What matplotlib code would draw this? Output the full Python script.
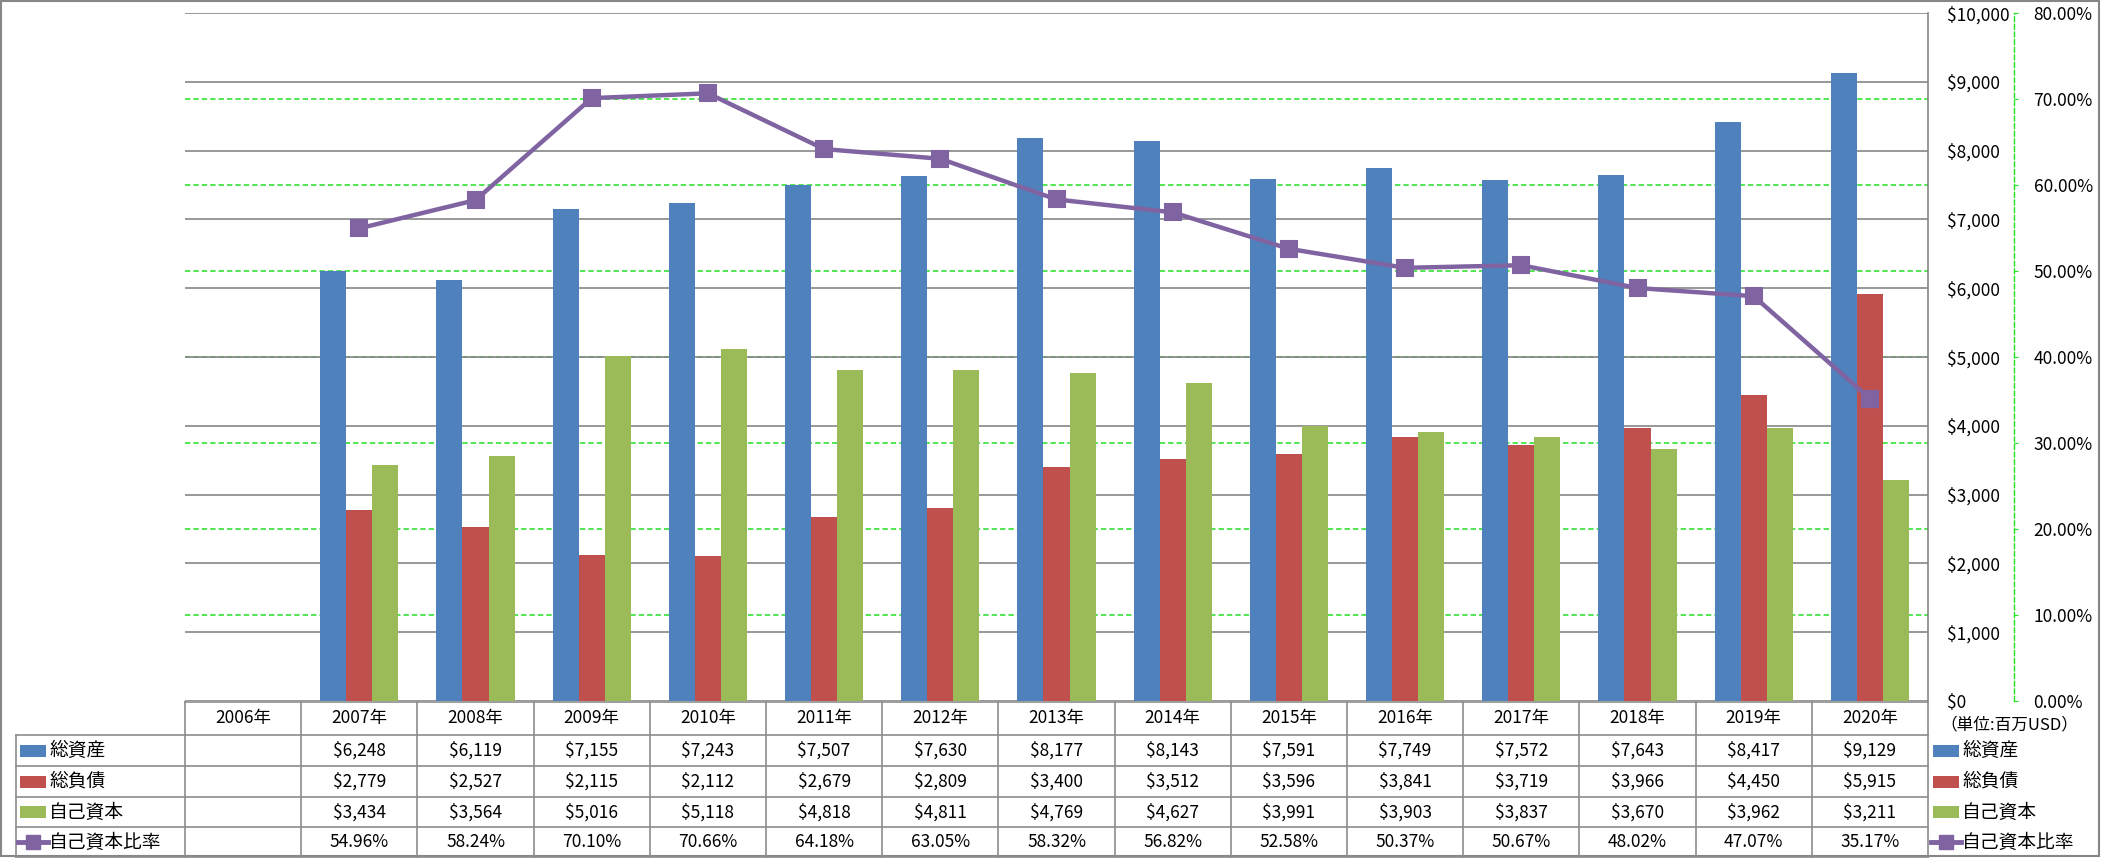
import matplotlib
matplotlib.use('Agg')
import matplotlib.pyplot as plt
import numpy as np
from matplotlib.patches import Rectangle
from matplotlib.lines import Line2D

plt.rcParams['font.family'] = ['Noto Sans CJK JP', 'DejaVu Sans']

years = ['2006年', '2007年', '2008年', '2009年', '2010年', '2011年', '2012年', '2013年',
         '2014年', '2015年', '2016年', '2017年', '2018年', '2019年', '2020年']
# 2006 has no data
total_assets = [6248, 6119, 7155, 7243, 7507, 7630, 8177, 8143, 7591, 7749, 7572, 7643, 8417, 9129]
total_liab = [2779, 2527, 2115, 2112, 2679, 2809, 3400, 3512, 3596, 3841, 3719, 3966, 4450, 5915]
equity = [3434, 3564, 5016, 5118, 4818, 4811, 4769, 4627, 3991, 3903, 3837, 3670, 3962, 3211]
equity_ratio = [54.96, 58.24, 70.10, 70.66, 64.18, 63.05, 58.32, 56.82, 52.58, 50.37, 50.67, 48.02, 47.07, 35.17]
series_names = ['総資産', '総負債', '自己資本', '自己資本比率']

c_blue = '#4F81BD'
c_red = '#C0504D'
c_green = '#9BBB59'
c_purple = '#8064A2'
c_grid = '#868686'
c_green_grid = '#22E022'
dash = (0, (3.5, 2))
fs = 12.5

W, H = 2101, 858
fig = plt.figure(figsize=(W / 100, H / 100), dpi=100)

# plot area in pixels
px0, px1, py0, py1 = 185, 1928, 13, 701
ax = fig.add_axes([px0 / W, 1 - py1 / H, (px1 - px0) / W, (py1 - py0) / H])
ncat = len(years)
ax.set_xlim(-0.5, ncat - 0.5)
ax.set_ylim(0, 10000)

# secondary axis (percent), kept behind the bars
ax2 = ax.twinx()
ax2.set_ylim(0, 80)
ax2.set_yticks(np.arange(0, 81, 10))
ax2.set_yticklabels(['{:.2f}%'.format(v) for v in range(0, 81, 10)])
for s in ['left', 'top', 'bottom']:
    ax2.spines[s].set_visible(False)
ax2.spines['right'].set_position(('outward', 62))
ax2.spines['right'].set_color(c_green_grid)
ax2.spines['right'].set_linestyle(dash)
ax2.spines['right'].set_linewidth(1.0)
ax2.tick_params(axis='y', length=3, pad=11, color=c_green_grid, labelsize=fs)
for v in range(10, 80, 10):
    ax2.axhline(v, color=c_green_grid, linewidth=1.1, linestyle=dash, zorder=1)

ax.set_zorder(ax2.get_zorder() + 1)
ax.patch.set_visible(False)

x = np.arange(1, ncat)
bw = 0.224
ax.bar(x - bw, total_assets, bw, color=c_blue, zorder=3)
ax.bar(x, total_liab, bw, color=c_red, zorder=3)
ax.bar(x + bw, equity, bw, color=c_green, zorder=3)
ax.plot(x, equity_ratio, transform=ax2.transData, color=c_purple, linewidth=3.2,
        marker='s', markersize=12, markerfacecolor=c_purple, markeredgecolor=c_purple,
        markeredgewidth=1.5, solid_joinstyle='round', zorder=5)

ax.set_yticks(np.arange(0, 10001, 1000))
ax.set_yticklabels(['${:,}'.format(v) for v in range(0, 10001, 1000)])
ax.yaxis.tick_right()
ax.tick_params(axis='y', length=0, pad=14, labelsize=fs)
ax.set_xticks([])
for s in ['left', 'top', 'bottom']:
    ax.spines[s].set_visible(False)
ax.spines['right'].set_color(c_grid)
ax.spines['right'].set_linewidth(1.2)
ax.yaxis.grid(True, color=c_grid, linewidth=1.2, zorder=0)
ax.set_axisbelow(True)

# table / frame overlay in pixel coordinates
tab = fig.add_axes([0, 0, 1, 1], zorder=-1)
tab.set_xlim(0, W)
tab.set_ylim(H, 0)
tab.axis('off')

tab.add_patch(Rectangle((1, 1), W - 3, H - 3, fill=False, edgecolor=c_grid, linewidth=1.5))

colw = (px1 - px0) / ncat
rows_y = [702, 735, 766, 797, 827, 857]
lc = '#8C8C8C'
tab.plot([px0, px1], [rows_y[0], rows_y[0]], color=lc, lw=1.2)
for yy in rows_y[1:]:
    tab.plot([16, px1], [yy, yy], color=lc, lw=1.2)
tab.plot([16, 16], [rows_y[1], H], color=lc, lw=1.2)
for i in range(ncat + 1):
    tab.plot([px0 + i * colw] * 2, [rows_y[0], H], color=lc, lw=1.2)

for i, yr in enumerate(years):
    cx = px0 + (i + 0.5) * colw
    tab.text(cx, (rows_y[0] + rows_y[1]) / 2, yr, ha='center', va='center', fontsize=fs)

table_rows = [
    ['${:,}'.format(v) for v in total_assets],
    ['${:,}'.format(v) for v in total_liab],
    ['${:,}'.format(v) for v in equity],
    ['{:.2f}%'.format(v) for v in equity_ratio],
]
colors = [c_blue, c_red, c_green, c_purple]
for r, vals in enumerate(table_rows):
    cy = (rows_y[r + 1] + rows_y[r + 2]) / 2
    for j, t in enumerate(vals):
        cx = px0 + (j + 1.5) * colw
        tab.text(cx, cy, t, ha='center', va='center', fontsize=fs)
    # row label with legend key
    for kx, tx in [(20, 49), (1933, 1962)]:
        if r < 3:
            tab.add_patch(Rectangle((kx, cy - 6), 26, 12, color=colors[r], lw=0))
        else:
            tab.add_line(Line2D([kx - 2, kx + 28], [cy, cy], color=c_purple, lw=3.5))
            tab.add_line(Line2D([kx + 13], [cy], marker='s', markersize=10, color=c_purple))
        tab.text(tx, cy, series_names[r], ha='left', va='center', fontsize=13.5)

tab.text(1940, 725, '（単位:百万USD）', ha='left', va='center', fontsize=12)

fig.savefig('out.png', dpi=100)
